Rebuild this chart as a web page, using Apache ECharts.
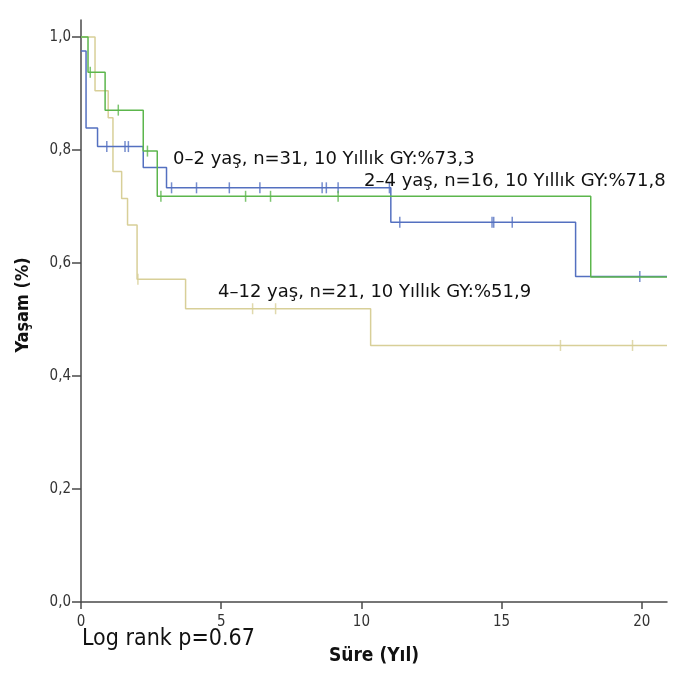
<!DOCTYPE html>
<html>
<head>
<meta charset="utf-8">
<script src="https://cdn.jsdelivr.net/npm/echarts@6/dist/echarts.min.js"></script>
<style>
  html, body { margin: 0; padding: 0; background: #fff; }
  #chart { width: 677px; height: 673px; }
</style>
</head>
<body>
<div id="chart"></div>
<script>
// Kaplan-Meier steps (time in years, survival fraction)
const blueTimes = [0, 0.18, 0.59, 2.22, 3.05, 11.05, 17.64, 20.9];
const blueSurv = [0.975, 0.839, 0.806, 0.769, 0.733, 0.672, 0.576, 0.576];
const blueCensor = [0.92, 1.57, 1.69, 3.23, 4.12, 5.29, 6.38, 8.6, 8.75, 9.17, 11.0, 11.37, 14.66, 14.72, 15.38, 19.93];

const greenTimes = [0, 0.25, 0.86, 2.22, 2.72, 18.18, 20.9];
const greenSurv = [1, 0.9375, 0.8705, 0.798, 0.718, 0.575, 0.575];
const greenCensor = [0.33, 1.33, 2.37, 2.85, 5.87, 6.76, 9.17];

const tanTimes = [0, 0.5, 0.97, 1.14, 1.45, 1.66, 2.0, 3.73, 10.33, 20.9];
const tanSurv = [1, 0.905, 0.857, 0.762, 0.714, 0.667, 0.571, 0.519, 0.454, 0.454];
const tanCensor = [2.03, 6.12, 6.94, 17.1, 19.67];

const xTicks = [0, 5, 10, 15, 20];
const yTicks = [0, 0.2, 0.4, 0.6, 0.8, 1.0];

const labels = [
  "0–2 yaş, n=31, 10 Yıllık GY:%73,3",
  "2–4 yaş, n=16, 10 Yıllık GY:%71,8",
  "4–12 yaş, n=21, 10 Yıllık GY:%51,9"
];

const BLUE = "#5470c0";
const GREEN = "#5cb64c";
const TAN = "#d8cf98";
const AXIS = "#4a4a4a";
const COND = "'DejaVu Sans Condensed', 'Liberation Sans Narrow', sans-serif";

function steps(times, surv) {
  return times.map((t, i) => [t, surv[i]]);
}

// survival value of a step curve at time t (for placing censor ticks)
function survAt(times, surv, t) {
  let s = surv[0];
  for (let i = 0; i < times.length; i++) {
    if (times[i] <= t) s = surv[i];
  }
  return s;
}

function censorPoints(times, surv, cens) {
  return cens.map(t => [t, survAt(times, surv, t)]);
}

function curve(name, color, times, surv, z) {
  return {
    name: name,
    type: "line",
    step: "end",
    data: steps(times, surv),
    showSymbol: false,
    lineStyle: { color: color, width: 1.5 },
    z: z,
    animation: false
  };
}

function ticks(name, color, times, surv, cens, z) {
  return {
    name: name + " censor",
    type: "scatter",
    data: censorPoints(times, surv, cens),
    symbol: "rect",
    symbolSize: [1.5, 11],
    itemStyle: { color: color },
    z: z,
    animation: false
  };
}

const chart = echarts.init(document.getElementById("chart"));

chart.setOption({
  backgroundColor: "#fff",
  animation: false,
  grid: { left: 81, right: 10, top: 20, bottom: 71 },
  xAxis: {
    type: "value",
    min: 0,
    max: 20.9,
    name: "Süre (Yıl)",
    nameLocation: "middle",
    nameGap: 45,
    nameTextStyle: { fontFamily: COND, fontWeight: "bold", fontSize: 19, color: "#111" },
    splitLine: { show: false },
    axisLine: { onZero: false, lineStyle: { color: AXIS, width: 1.5 } },
    axisTick: { show: true, length: 7, customValues: xTicks, lineStyle: { color: AXIS, width: 1.5 } },
    axisLabel: { customValues: xTicks, margin: 13, fontFamily: COND, fontSize: 15, color: "#333" }
  },
  yAxis: {
    type: "value",
    min: 0,
    max: 1.03,
    splitLine: { show: false },
    axisLine: { show: true, lineStyle: { color: AXIS, width: 1.5 } },
    axisTick: { show: true, length: 9, customValues: yTicks, lineStyle: { color: AXIS, width: 1.5 } },
    axisLabel: {
      customValues: yTicks,
      margin: 10,
      fontFamily: COND,
      fontSize: 15,
      color: "#333",
      formatter: v => v.toFixed(1).replace(".", ",")
    }
  },
  series: [
    curve("4–12", TAN, tanTimes, tanSurv, 2),
    curve("0–2", BLUE, blueTimes, blueSurv, 3),
    curve("2–4", GREEN, greenTimes, greenSurv, 4),
    ticks("4–12", TAN, tanTimes, tanSurv, tanCensor, 2),
    ticks("0–2", BLUE, blueTimes, blueSurv, blueCensor, 3),
    ticks("2–4", GREEN, greenTimes, greenSurv, greenCensor, 4)
  ],
  graphic: [
    { type: "text", left: 173, top: 150, z: 10, style: { text: labels[0], font: "18px 'DejaVu Sans'", fill: "#111" } },
    { type: "text", left: 364, top: 172, z: 10, style: { text: labels[1], font: "18px 'DejaVu Sans'", fill: "#111" } },
    { type: "text", left: 218, top: 283, z: 10, style: { text: labels[2], font: "18px 'DejaVu Sans'", fill: "#111" } },
    { type: "text", left: 82, top: 628, z: 10, style: { text: "Log rank p=0.67", font: "23px " + COND, fill: "#111" } },
    {
      type: "text", x: 23, y: 305, rotation: Math.PI / 2, z: 10,
      style: { text: "Yaşam (%)", font: "bold 18px " + COND, fill: "#111", align: "center", verticalAlign: "middle" }
    }
  ]
});
</script>
</body>
</html>
